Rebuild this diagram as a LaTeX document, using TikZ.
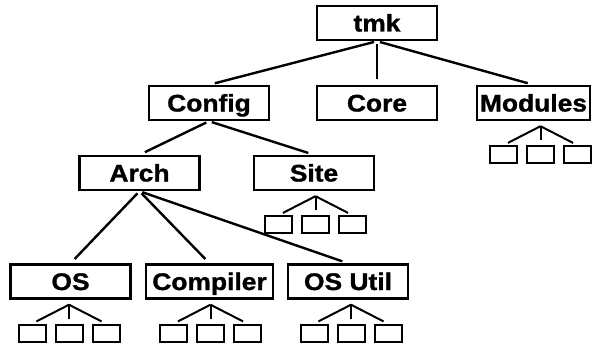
\documentclass[tikz,border=0pt]{standalone}
\usepackage{fontspec}
\setmainfont{Liberation Sans}[FakeStretch=1.1, BoldFeatures={FakeBold=1.2}]
\usetikzlibrary{positioning,calc}
\tikzset{
block/.style = {draw, fill=white, rectangle, line width=2.4pt, minimum height=34pt, minimum width=120pt, inner sep=1pt, text height=17pt, text depth=0pt, font=\fontsize{24}{28}\selectfont\bfseries},
leaf/.style  = {draw, rectangle, line width=2pt, minimum height=17pt, minimum width=27pt, inner sep=0pt},
link/.style  = {line width=2.4pt, shorten <=3pt, shorten >=6pt},
twig/.style  = {line width=2pt, shorten >=5pt}
}
% three small boxes hanging under a node
\newcommand{\subtree}[2]{%
  \coordinate (#1-j) at ($(#1.south)+(#2,-5pt)$);
  \node [leaf, below=19pt of #1-j] (#1-m) {};
  \node [leaf, left=8pt of #1-m] (#1-l) {};
  \node [leaf, right=8pt of #1-m] (#1-r) {};
  \draw [twig] (#1-j) -- (#1-l.north);
  \draw [twig] (#1-j) -- (#1-m.north);
  \draw [twig] (#1-j) -- (#1-r.north);
}
\begin{document}
\begin{tikzpicture}[node distance=120pt]
    \useasboundingbox (0,0) rectangle (592pt,-345pt);

		% top level
		\node [block] (tmk) at (377pt,-23pt) {tmk};
		\node [block, below of=tmk, node distance=80pt] (core) {Core};
		\node [block, left of=core, node distance=168pt] (config) {Config};
		\node [block, right of=core, node distance=156.5pt, minimum width=113pt, inner xsep=0.5pt] (modules) {Modules};

		% config level
		\node [block] (arch) at (139.5pt,-173pt) {Arch};
		\node [block, right of=arch, node distance=174.5pt] (site) {Site};

		% arch level
		\node [block] (os) at (70.5pt,-281.5pt) {OS};
		\node [block, right of=os, node distance=139pt, minimum width=127pt] (compiler) {Compiler};
		\node [block, right of=compiler, node distance=138.5pt] (osutil) {OS Util};

		\draw [link] (tmk.south) -- (config.north);
		\draw [link] (tmk.south) -- (core.north);
		\draw [link] (tmk.south) -- (modules.north);
		\draw [link] (config.south) -- (arch.north);
		\draw [link] (config.south) -- (site.north);
		\draw [link] (arch.south) -- (os.north);
		\draw [link] (arch.south) -- (compiler.north);
		\draw [link] (arch.south) -- (osutil.north);

		\subtree{modules}{7pt}
		\subtree{site}{1.5pt}
		\subtree{os}{-1.5pt}
		\subtree{compiler}{1pt}
		\subtree{osutil}{3pt}
\end{tikzpicture}
\end{document}
